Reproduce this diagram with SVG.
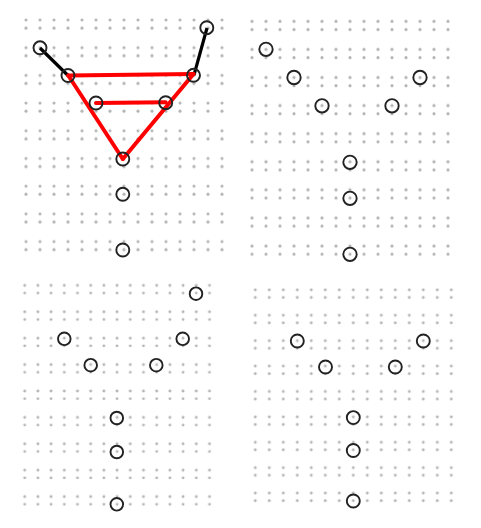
<svg xmlns="http://www.w3.org/2000/svg" width="481" height="528" viewBox="0 0 481 528">
<style>
.dot{fill:#b5b5b5}
.n{fill:none;stroke:#222;stroke-width:1.9}
.blk{stroke:#000;stroke-width:3.2;fill:none}
.red{stroke:#f00;stroke-width:4;fill:none;stroke-linecap:round}
</style>
<defs>
<pattern id="p1" patternUnits="userSpaceOnUse" x="19" y="16" width="14" height="27.7"><circle class="dot" cx="7" cy="4" r="1.55"/><circle class="dot" cx="7" cy="12" r="1.55"/></pattern>
<pattern id="p2" patternUnits="userSpaceOnUse" x="245" y="17.3" width="14" height="28.08"><circle class="dot" cx="7" cy="4" r="1.55"/><circle class="dot" cx="7" cy="12.3" r="1.55"/></pattern>
<pattern id="p3" patternUnits="userSpaceOnUse" x="18.1" y="281.5" width="13.2" height="26.4"><circle class="dot" cx="6.6" cy="4" r="1.45"/><circle class="dot" cx="6.6" cy="11.6" r="1.45"/></pattern>
<pattern id="p4" patternUnits="userSpaceOnUse" x="248.3" y="286" width="14" height="25.4"><circle class="dot" cx="7" cy="4" r="1.45"/><circle class="dot" cx="7" cy="11.4" r="1.45"/></pattern>
</defs>
<rect width="481" height="528" fill="#fff"/>
<g id="grids">
<rect x="19" y="16" width="210" height="249.3" fill="url(#p1)"/>
<rect x="245" y="17.3" width="210" height="252.7" fill="url(#p2)"/>
<rect x="18.1" y="281.5" width="198" height="237.6" fill="url(#p3)"/>
<rect x="248.3" y="286" width="210" height="228.6" fill="url(#p4)"/>
</g>
<g id="connectors">
<line class="blk" x1="40" y1="48" x2="68" y2="75.5"/>
<line class="blk" x1="207" y1="28" x2="194" y2="75"/>
<line class="red" x1="68.3" y1="75.5" x2="193.5" y2="74"/>
<line class="red" x1="68.3" y1="75.5" x2="122.8" y2="159"/>
<line class="red" x1="193.5" y1="74" x2="122.8" y2="159"/>
<line class="red" x1="96" y1="103" x2="165.7" y2="102.3"/>
</g>
<g id="panel1">
<g id="a1"><circle class="n" cx="40" cy="47.8" r="6.5"/></g>
<g id="a2"><circle class="n" cx="68" cy="75.5" r="6.5"/></g>
<g id="a3"><circle class="n" cx="96" cy="103" r="6.5"/></g>
<g id="a4"><circle class="n" cx="122.8" cy="159" r="6.5"/></g>
<g id="a5"><circle class="n" cx="122.8" cy="194.3" r="6.5"/></g>
<g id="a6"><circle class="n" cx="122.8" cy="250" r="6.5"/></g>
<g id="a7"><circle class="n" cx="165.7" cy="102.7" r="6.5"/></g>
<g id="a8"><circle class="n" cx="193.5" cy="75.3" r="6.5"/></g>
<g id="a9"><circle class="n" cx="206.8" cy="27.7" r="6.5"/></g>
</g>
<g id="panel2">
<g id="b1"><circle class="n" cx="266" cy="49.3" r="6.7"/></g>
<g id="b2"><circle class="n" cx="294" cy="77.5" r="6.7"/></g>
<g id="b3"><circle class="n" cx="322" cy="105.8" r="6.7"/></g>
<g id="b4"><circle class="n" cx="350" cy="162.3" r="6.7"/></g>
<g id="b5"><circle class="n" cx="350" cy="198.3" r="6.7"/></g>
<g id="b6"><circle class="n" cx="350" cy="254.3" r="6.7"/></g>
<g id="b7"><circle class="n" cx="392" cy="105.8" r="6.7"/></g>
<g id="b8"><circle class="n" cx="420" cy="77.5" r="6.7"/></g>
</g>
<g id="panel3">
<g id="c1"><circle class="n" cx="196" cy="293.7" r="6.3"/></g>
<g id="c2"><circle class="n" cx="64.3" cy="338.8" r="6.3"/></g>
<g id="c3"><circle class="n" cx="90.7" cy="365.2" r="6.3"/></g>
<g id="c4"><circle class="n" cx="116.8" cy="418" r="6.3"/></g>
<g id="c5"><circle class="n" cx="116.8" cy="452" r="6.3"/></g>
<g id="c6"><circle class="n" cx="116.8" cy="504.3" r="6.3"/></g>
<g id="c7"><circle class="n" cx="156.3" cy="365.2" r="6.3"/></g>
<g id="c8"><circle class="n" cx="182.7" cy="338.8" r="6.3"/></g>
</g>
<g id="panel4">
<g id="d1"><circle class="n" cx="297.3" cy="341" r="6.5"/></g>
<g id="d2"><circle class="n" cx="325.5" cy="367" r="6.5"/></g>
<g id="d3"><circle class="n" cx="353.3" cy="417.6" r="6.5"/></g>
<g id="d4"><circle class="n" cx="353.3" cy="450.5" r="6.5"/></g>
<g id="d5"><circle class="n" cx="353.3" cy="501" r="6.5"/></g>
<g id="d6"><circle class="n" cx="395.3" cy="367" r="6.5"/></g>
<g id="d7"><circle class="n" cx="423.3" cy="341" r="6.5"/></g>
</g>
</svg>
